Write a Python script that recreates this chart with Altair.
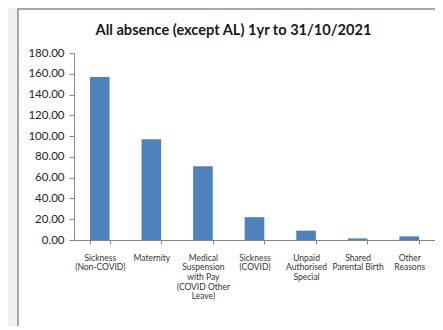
import altair as alt
import pandas as pd

categories = [
    "Sickness\n(Non-COVID)",
    "Maternity",
    "Medical\nSuspension\nwith Pay\n(COVID Other\nLeave)",
    "Sickness\n(COVID)",
    "Unpaid\nAuthorised\nSpecial",
    "Shared\nParental Birth",
    "Other\nReasons",
]
values = [157, 97, 71, 22, 9, 1.5, 3.5]
y_ticks = [0, 20, 40, 60, 80, 100, 120, 140, 160, 180]
title_text = "All absence (except AL) 1yr to 31/10/2021"

df = pd.DataFrame({"category": categories, "value": values})

frame = alt.Chart(pd.DataFrame({"a": [0]})).mark_rect(
    fill="white", stroke="#8e8e8e", strokeWidth=1.5
).encode(
    x=alt.value(-56), x2=alt.value(420), y=alt.value(-44), y2=alt.value(320)
)

bars = alt.Chart(df).mark_bar(color="#4f81bd").encode(
    x=alt.X(
        "category:N",
        sort=None,
        title=None,
        scale=alt.Scale(paddingInner=0.62, paddingOuter=0.31),
        axis=alt.Axis(
            labelAngle=0,
            labelExpr="split(datum.label, '\\n')",
            labelFont="Lato",
            labelFontSize=8.5,
            labelLineHeight=9.7,
            labelColor="#333333",
            labelPadding=9,
            tickBand="extent",
            tickSize=4,
            tickColor="#868686",
            domainColor="#868686",
            labelBaseline="top",
            zindex=1,
        ),
    ),
    y=alt.Y(
        "value:Q",
        title=None,
        scale=alt.Scale(domain=[0, 180], nice=False),
        axis=alt.Axis(
            values=y_ticks,
            format=".2f",
            grid=False,
            labelFont="Lato",
            labelFontSize=11.5,
            labelColor="#262626",
            tickSize=5,
            tickColor="#868686",
            domainColor="#868686",
            labelPadding=5,
            zindex=1,
        ),
    ),
)

chart = alt.layer(frame, bars).properties(
    width=361,
    height=187,
    background="#f0f0f0",
    padding={"left": 66, "top": 45, "right": 0, "bottom": 86},
    autosize=alt.AutoSizeParams(type="none"),
    title=alt.TitleParams(
        text=title_text,
        font="Lato",
        fontSize=14.6,
        fontWeight="bold",
        color="#1a1a1a",
        anchor="middle",
        frame="group",
        dx=-21,
        offset=0,
        dy=41.5,
        baseline="alphabetic",
    ),
).configure_view(stroke=None)

chart.save("out.html", embed_options={"renderer": "svg", "actions": False})
